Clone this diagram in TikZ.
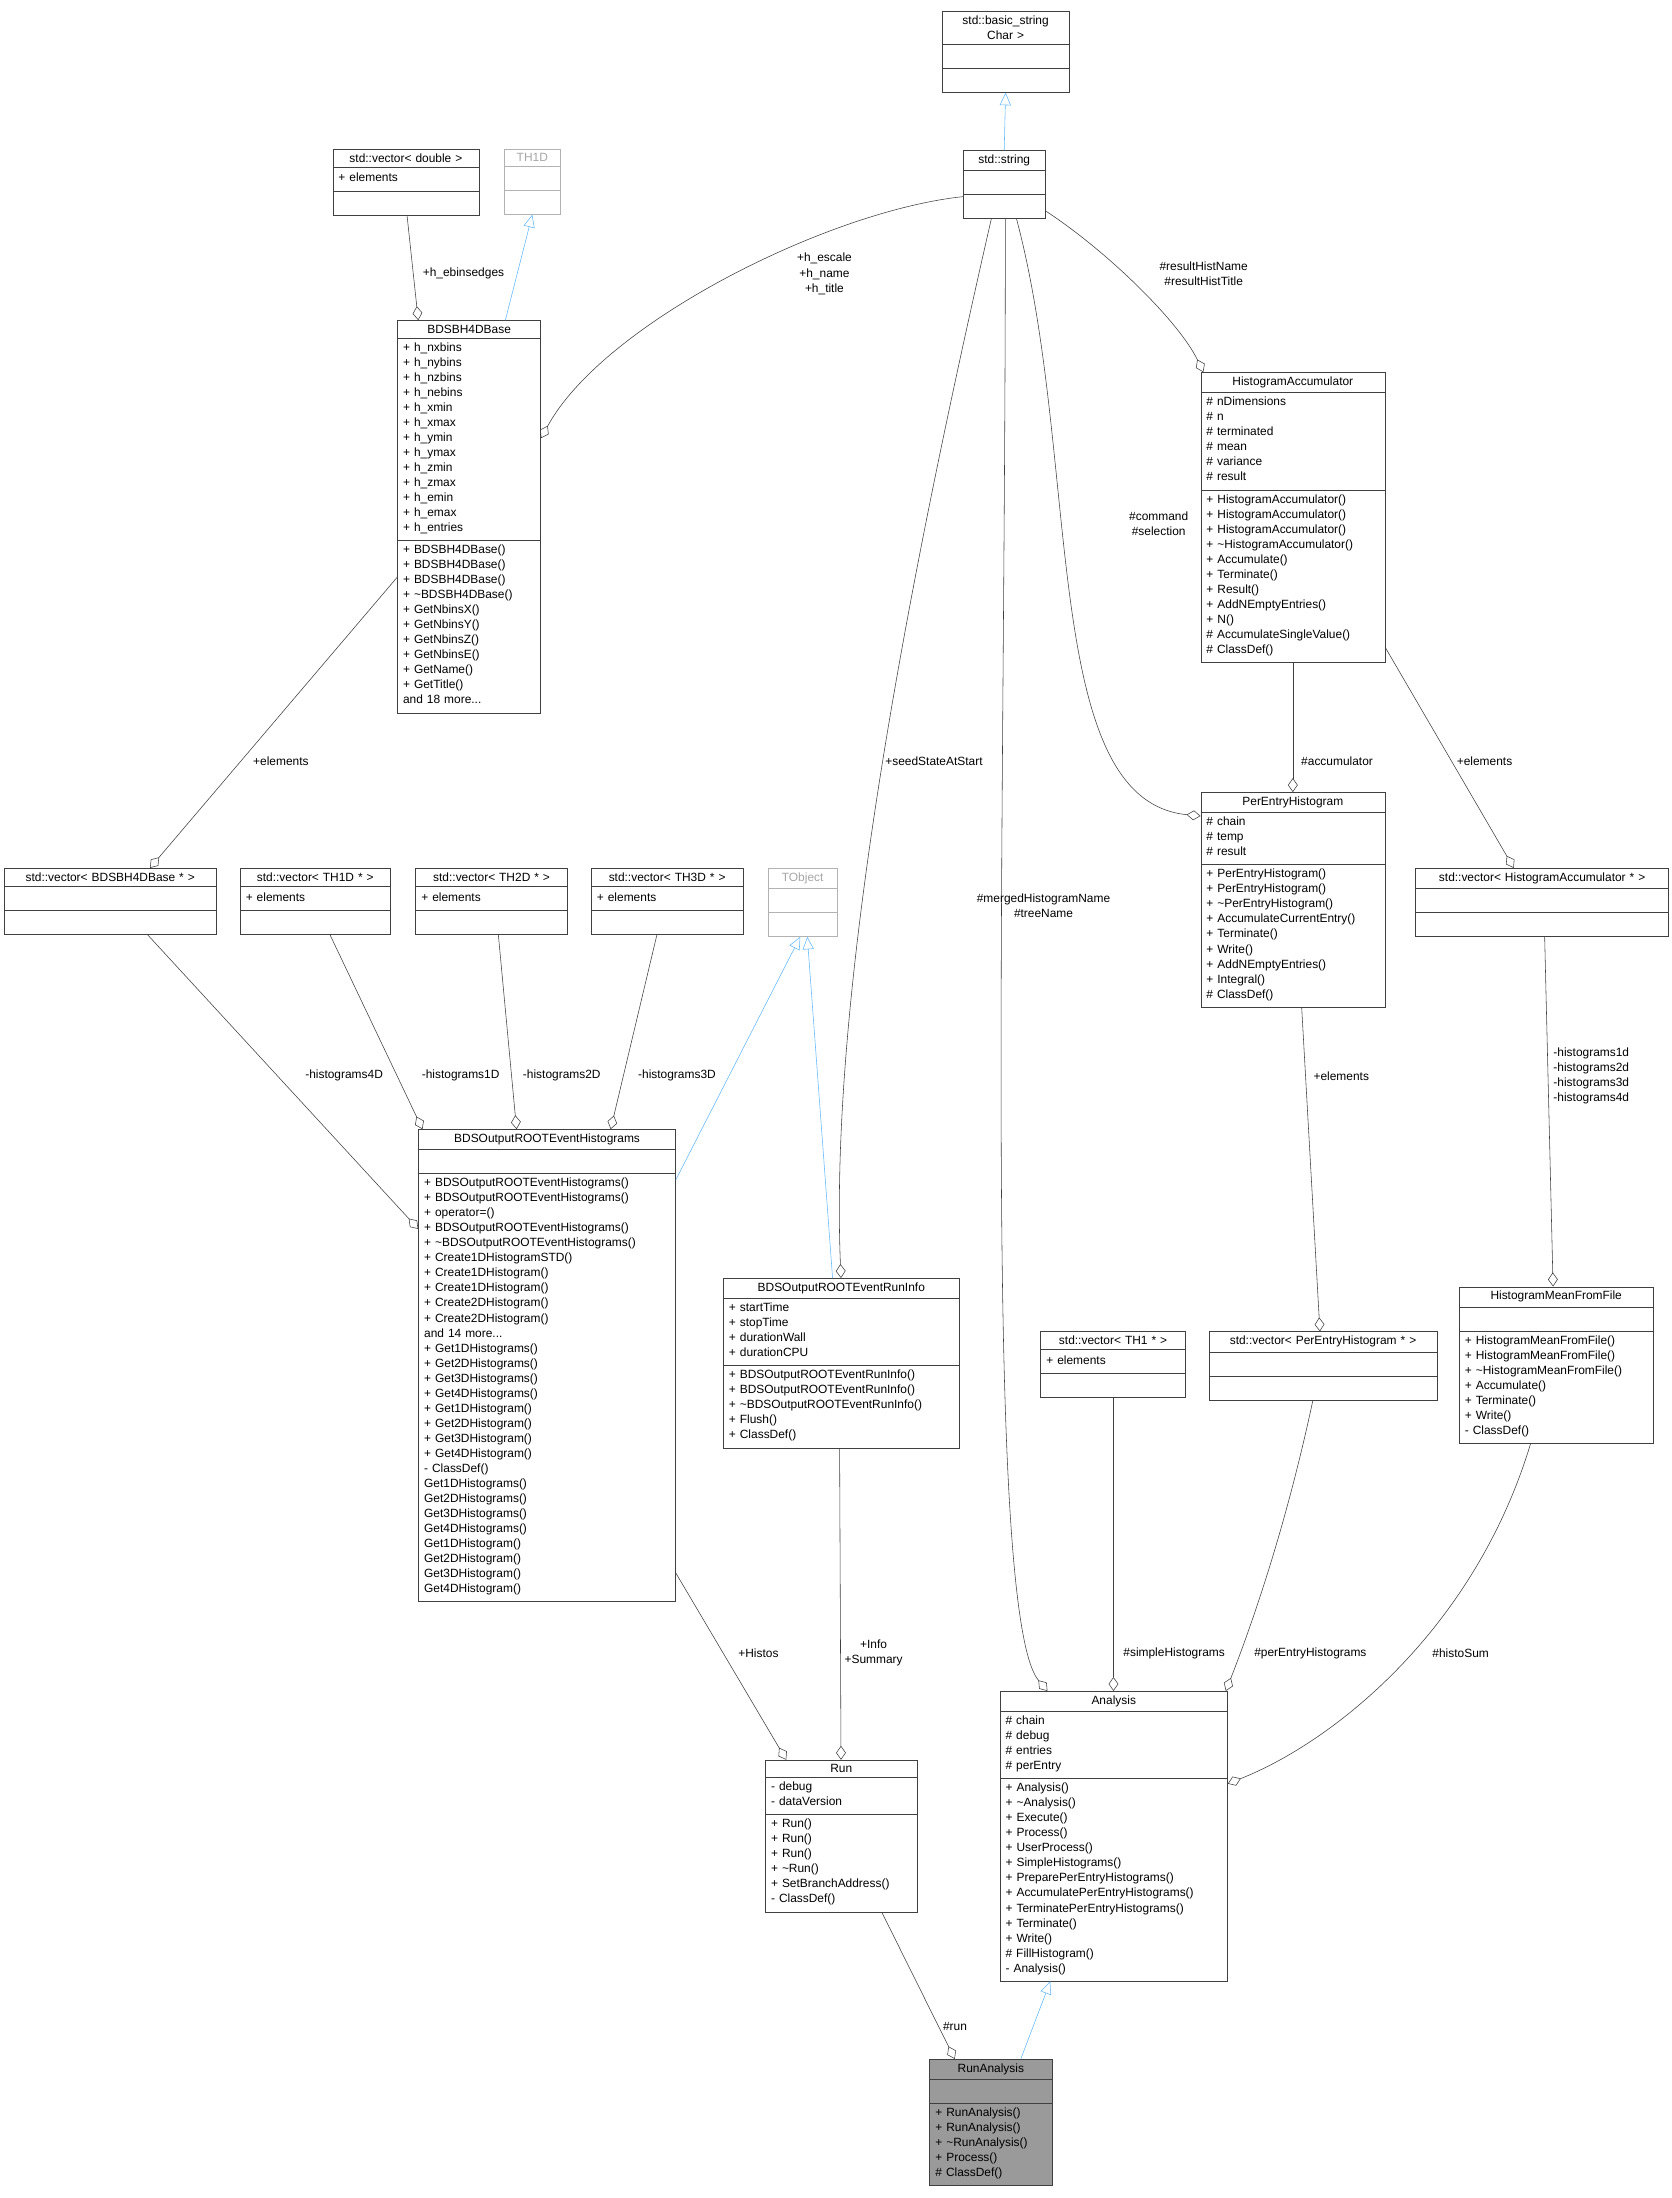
\documentclass[tikz,border=0pt]{standalone}
\usepackage{fontspec}
\setmainfont{Liberation Sans}
\usetikzlibrary{shapes.multipart,arrows.meta}
\definecolor{inhc}{HTML}{63B8FF}
\definecolor{edg}{HTML}{404040}
\newcommand\pN[2]{([xshift=#2pt]#1.north west)}
\newcommand\pS[2]{([xshift=#2pt]#1.south west)}
\newcommand\pW[2]{([yshift=-#2pt]#1.north west)}
\newcommand\pE[2]{([yshift=-#2pt]#1.north east)}
\newcommand\cls[8][]{\node[cls,#1,text width=\dimexpr#5pt-8pt\relax] (#2) at (#3+#5/2,#4) {{\centering #6\par}\nodepart{second}\raggedright #7\strut\nodepart{third}\raggedright #8\strut};}
\newcommand\tl{\textasciitilde}
\begin{document}
\begin{tikzpicture}[x=1pt,y=-1pt,
  cls/.style={rectangle split, rectangle split parts=3, draw=edg, fill=white, anchor=north,
    font=\fontsize{8.5}{10.7}\selectfont, inner xsep=4pt, inner ysep=3pt},
  grey/.style={draw=gray!60, text=gray!70},
  agg/.style={draw=edg, -{Diamond[open,length=10pt,width=7pt]}},
  inh/.style={draw=inhc, -{Triangle[open,length=9pt,width=8pt]}},
  lab/.style={font=\fontsize{8.5}{10.7}\selectfont, align=center, inner sep=1pt}]
\useasboundingbox (0,0) rectangle (1190,1565);
\cls{bs}{671}{8}{90}{std::basic\_string\\Char >}{}{}
\cls{str}{686}{107}{58}{std::string}{}{}
\cls{vd}{237}{106}{104}{std::vector< double >}{+ elements}{}
\cls[grey]{th1d}{359}{106}{40}{TH1D}{}{}
\cls{bb}{283}{228}{102}{BDSBH4DBase}{+ h\_nxbins\\+ h\_nybins\\+ h\_nzbins\\+ h\_nebins\\+ h\_xmin\\+ h\_xmax\\+ h\_ymin\\+ h\_ymax\\+ h\_zmin\\+ h\_zmax\\+ h\_emin\\+ h\_emax\\+ h\_entries}{+ BDSBH4DBase()\\+ BDSBH4DBase()\\+ BDSBH4DBase()\\+ \tl BDSBH4DBase()\\+ GetNbinsX()\\+ GetNbinsY()\\+ GetNbinsZ()\\+ GetNbinsE()\\+ GetName()\\+ GetTitle()\\and 18 more...}
\cls{ha}{855}{265}{131}{HistogramAccumulator}{\# nDimensions\\\# n\\\# terminated\\\# mean\\\# variance\\\# result}{+ HistogramAccumulator()\\+ HistogramAccumulator()\\+ HistogramAccumulator()\\+ \tl HistogramAccumulator()\\+ Accumulate()\\+ Terminate()\\+ Result()\\+ AddNEmptyEntries()\\+ N()\\\# AccumulateSingleValue()\\\# ClassDef()}
\cls{peh}{855}{564}{131}{PerEntryHistogram}{\# chain\\\# temp\\\# result}{+ PerEntryHistogram()\\+ PerEntryHistogram()\\+ \tl PerEntryHistogram()\\+ AccumulateCurrentEntry()\\+ Terminate()\\+ Write()\\+ AddNEmptyEntries()\\+ Integral()\\\# ClassDef()}
\cls{vbb}{3}{618}{151}{std::vector< BDSBH4DBase * >}{}{}
\cls{v1}{171}{618}{107}{std::vector< TH1D * >}{+ elements}{}
\cls{v2}{296}{618}{108}{std::vector< TH2D * >}{+ elements}{}
\cls{v3}{421}{618}{108}{std::vector< TH3D * >}{+ elements}{}
\cls[grey]{tobj}{547}{618}{49}{TObject}{}{}
\cls{vha}{1008}{618}{180}{std::vector< HistogramAccumulator * >}{}{}
\cls{boreh}{298}{804}{183}{BDSOutputROOTEventHistograms}{}{+ BDSOutputROOTEventHistograms()\\+ BDSOutputROOTEventHistograms()\\+ operator=()\\+ BDSOutputROOTEventHistograms()\\+ \tl BDSOutputROOTEventHistograms()\\+ Create1DHistogramSTD()\\+ Create1DHistogram()\\+ Create1DHistogram()\\+ Create2DHistogram()\\+ Create2DHistogram()\\and 14 more...\\+ Get1DHistograms()\\+ Get2DHistograms()\\+ Get3DHistograms()\\+ Get4DHistograms()\\+ Get1DHistogram()\\+ Get2DHistogram()\\+ Get3DHistogram()\\+ Get4DHistogram()\\- ClassDef()\\* Get1DHistograms()\\* Get2DHistograms()\\* Get3DHistograms()\\* Get4DHistograms()\\* Get1DHistogram()\\* Get2DHistogram()\\* Get3DHistogram()\\* Get4DHistogram()}
\cls{ri}{515}{910}{168}{BDSOutputROOTEventRunInfo}{+ startTime\\+ stopTime\\+ durationWall\\+ durationCPU}{+ BDSOutputROOTEventRunInfo()\\+ BDSOutputROOTEventRunInfo()\\+ \tl BDSOutputROOTEventRunInfo()\\+ Flush()\\+ ClassDef()}
\cls{vt1}{741}{948}{103}{std::vector< TH1 * >}{+ elements}{}
\cls{vpeh}{861}{948}{162}{std::vector< PerEntryHistogram * >}{}{}
\cls{hmff}{1039}{916}{138}{HistogramMeanFromFile}{}{+ HistogramMeanFromFile()\\+ HistogramMeanFromFile()\\+ \tl HistogramMeanFromFile()\\+ Accumulate()\\+ Terminate()\\+ Write()\\- ClassDef()}
\cls{an}{712}{1204}{162}{Analysis}{\# chain\\\# debug\\\# entries\\\# perEntry}{+ Analysis()\\+ \tl Analysis()\\+ Execute()\\+ Process()\\+ UserProcess()\\+ SimpleHistograms()\\+ PreparePerEntryHistograms()\\+ AccumulatePerEntryHistograms()\\+ TerminatePerEntryHistograms()\\+ Terminate()\\+ Write()\\\# FillHistogram()\\- Analysis()}
\cls{run}{545}{1253}{108}{Run}{- debug\\- dataVersion}{+ Run()\\+ Run()\\+ Run()\\+ \tl Run()\\+ SetBranchAddress()\\- ClassDef()}
\cls[fill={rgb,255:red,154;green,154;blue,154}]{ra}{662}{1466}{87}{RunAnalysis}{}{+ RunAnalysis()\\+ RunAnalysis()\\+ \tl RunAnalysis()\\+ Process()\\\# ClassDef()}
% inheritance
\draw[inh] (str.north) -- (bs.south);
\draw[inh] \pN{bb}{77} -- (th1d.south);
\draw[inh] \pE{boreh}{36} -- \pS{tobj}{23};
\draw[inh] \pN{ri}{78} -- \pS{tobj}{28};
\draw[inh] \pN{ra}{65} -- \pS{an}{36};
% aggregation
\draw[agg] \pS{vd}{53} -- \pN{bb}{15};
\node[lab] (l1) at (330,195) {+h\_ebinsedges};
\draw[agg] \pW{str}{33} .. controls (590,150) and (430,230) .. \pE{bb}{84};
\node[lab] (l2) at (587,195) {+h\_escale\\+h\_name\\+h\_title};
\draw[agg] \pE{str}{43} .. controls (790,180) and (840,230) .. \pN{ha}{2};
\node[lab] (l3) at (857,195) {\#resultHistName\\\#resultHistTitle};
\draw[agg] \pS{str}{38} .. controls (770,330) and (740,570) .. \pW{peh}{17};
\node[lab] (l4) at (825,373) {\#command\\\#selection};
\draw[agg] \pS{str}{20} .. controls (650,400) and (590,700) .. \pN{ri}{84};
\node[lab] (l5) at (665,542) {+seedStateAtStart};
\draw[agg] \pS{str}{30} .. controls (716,600) and (700,1150) .. \pN{an}{34};
\node[lab] (l6) at (743,645) {\#mergedHistogramName\\\#treeName};
\draw[agg] \pW{bb}{183} -- \pN{vbb}{104};
\node[lab] (l7) at (200,542) {+elements};
\draw[agg] (ha.south) -- (peh.north);
\node[lab] (l8) at (952,542) {\#accumulator};
\draw[agg] ([yshift=11pt]ha.south east) -- \pN{vha}{70};
\node[lab] (l9) at (1057,542) {+elements};
\draw[agg] \pS{vbb}{102} -- \pW{boreh}{71};
\node[lab] (l10) at (245,766) {-histograms4D};
\draw[agg] \pS{v1}{64} -- \pN{boreh}{3};
\node[lab] (l11) at (328,766) {-histograms1D};
\draw[agg] \pS{v2}{59} -- \pN{boreh}{70};
\node[lab] (l12) at (400,766) {-histograms2D};
\draw[agg] \pS{v3}{47} -- \pN{boreh}{137};
\node[lab] (l13) at (482,766) {-histograms3D};
\draw[agg] \pS{peh}{72} -- \pN{vpeh}{79};
\node[lab] (l14) at (955,766) {+elements};
\draw[agg] \pS{vha}{92} -- \pN{hmff}{67};
\node[lab] (l15) at (1133,766) {-histograms1d\\-histograms2d\\-histograms3d\\-histograms4d};
\draw[agg] \pE{boreh}{316} -- \pN{run}{15};
\node[lab] (l16) at (540,1177) {+Histos};
\draw[agg] \pS{ri}{83} -- \pN{run}{54};
\node[lab] (l17) at (622,1177) {+Info\\+Summary};
\draw[agg] \pS{vt1}{52} -- \pN{an}{81};
\node[lab] (l18) at (836,1177) {\#simpleHistograms};
\draw[agg] \pS{vpeh}{74} .. controls (915,1090) and (890,1160) .. \pN{an}{161};
\node[lab] (l19) at (933,1177) {\#perEntryHistograms};
\draw[agg] \pS{hmff}{51} .. controls (1050,1160) and (950,1240) .. \pE{an}{66};
\node[lab] (l20) at (1040,1177) {\#histoSum};
\draw[agg] \pS{run}{83} -- \pN{ra}{18};
\node[lab] (l21) at (680,1443) {\#run};
\end{tikzpicture}
\end{document}
